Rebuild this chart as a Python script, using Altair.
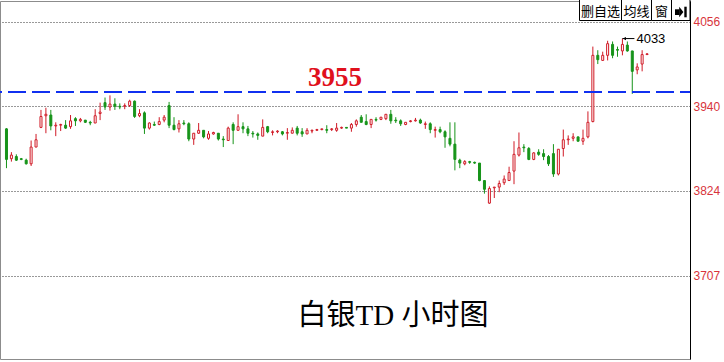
import altair as alt
import pandas as pd

# ---- data (hourly candles) ----
opens = [3909, 3868, 3871, 3868, 3866, 3861, 3884, 3911, 3927, 3928,
         3913, 3914, 3914, 3912, 3923, 3920, 3921, 3918, 3917, 3930,
         3945, 3939, 3943, 3940, 3940, 3941, 3947, 3927, 3931, 3910,
         3915, 3915, 3921, 3941, 3914, 3909, 3917, 3916, 3895, 3903,
         3907, 3896, 3902, 3903, 3895, 3893, 3915, 3907, 3912, 3909,
         3903, 3902, 3899, 3912, 3904, 3905, 3905, 3903, 3903, 3910,
         3905, 3902, 3906, 3907, 3908, 3908, 3908, 3907, 3910, 3911,
         3910, 3915, 3925, 3919, 3915, 3922, 3922, 3923, 3929, 3921,
         3920, 3915, 3919, 3920, 3921, 3915, 3916, 3907, 3908, 3905,
         3896, 3888, 3866, 3861, 3864, 3863, 3862, 3838, 3807, 3828,
         3829, 3835, 3838, 3851, 3873, 3884, 3882, 3867, 3877, 3875,
         3871, 3875, 3847, 3882, 3894, 3896, 3898, 3892, 3898, 3919,
         4010, 4003, 4010, 4025, 4018, 4016, 4024, 4016, 3990, 3998,
         4011]
highs = [3910, 3877, 3874, 3869, 3868, 3893, 3902, 3935, 3938, 3935,
         3918, 3916, 3921, 3928, 3925, 3924, 3921, 3920, 3936, 3945,
         3952, 3955, 3951, 3944, 3944, 3949, 3948, 3936, 3933, 3918,
         3919, 3925, 3928, 3946, 3925, 3921, 3921, 3918, 3903, 3917,
         3907, 3906, 3905, 3903, 3899, 3912, 3918, 3929, 3918, 3913,
         3906, 3904, 3922, 3913, 3907, 3907, 3906, 3910, 3911, 3913,
         3910, 3910, 3908, 3909, 3909, 3914, 3910, 3917, 3912, 3911,
         3917, 3922, 3928, 3929, 3922, 3925, 3925, 3929, 3935, 3925,
         3922, 3918, 3921, 3924, 3923, 3919, 3918, 3912, 3912, 3907,
         3918, 3918, 3868, 3866, 3865, 3864, 3862, 3838, 3830, 3829,
         3838, 3845, 3857, 3892, 3904, 3888, 3884, 3877, 3881, 3881,
         3873, 3888, 3881, 3908, 3900, 3903, 3898, 3908, 3933, 4022,
         4017, 4015, 4030, 4029, 4022, 4033, 4029, 4016, 3999, 4017,
         4013]
lows = [3855, 3864, 3865, 3866, 3860, 3858, 3884, 3910, 3903, 3907,
        3899, 3906, 3909, 3909, 3913, 3918, 3917, 3914, 3917, 3921,
        3935, 3934, 3935, 3936, 3936, 3939, 3924, 3925, 3902, 3908,
        3913, 3914, 3918, 3910, 3907, 3904, 3914, 3892, 3887, 3902,
        3896, 3894, 3901, 3893, 3884, 3893, 3888, 3907, 3903, 3899,
        3897, 3894, 3899, 3903, 3900, 3903, 3900, 3894, 3903, 3900,
        3898, 3902, 3903, 3906, 3907, 3903, 3906, 3905, 3909, 3910,
        3905, 3912, 3918, 3914, 3910, 3919, 3921, 3921, 3916, 3917,
        3913, 3914, 3918, 3919, 3916, 3909, 3903, 3897, 3903, 3883,
        3885, 3852, 3855, 3859, 3861, 3861, 3837, 3820, 3806, 3814,
        3822, 3832, 3838, 3833, 3871, 3877, 3866, 3866, 3872, 3866,
        3858, 3843, 3845, 3871, 3887, 3892, 3892, 3887, 3896, 3918,
        3998, 4003, 4003, 4006, 4008, 4010, 4015, 3957, 3984, 3988,
        4011]
closes = [3867, 3873, 3866, 3867, 3861, 3884, 3894, 3926, 3929, 3913,
          3914, 3915, 3910, 3920, 3920, 3922, 3918, 3917, 3927, 3932,
          3939, 3943, 3940, 3939, 3941, 3947, 3926, 3930, 3910, 3917,
          3914, 3919, 3925, 3914, 3908, 3916, 3916, 3895, 3903, 3907,
          3898, 3902, 3904, 3895, 3894, 3910, 3907, 3912, 3909, 3903,
          3902, 3900, 3911, 3905, 3905, 3906, 3902, 3904, 3907, 3903,
          3902, 3907, 3907, 3908, 3909, 3907, 3909, 3910, 3911, 3910,
          3915, 3920, 3918, 3915, 3922, 3921, 3925, 3929, 3920, 3920,
          3916, 3918, 3920, 3921, 3917, 3916, 3908, 3908, 3905, 3898,
          3888, 3867, 3862, 3864, 3863, 3862, 3838, 3826, 3827, 3829,
          3834, 3840, 3849, 3874, 3883, 3883, 3867, 3876, 3874, 3871,
          3861, 3847, 3881, 3894, 3895, 3898, 3892, 3896, 3918, 4010,
          4004, 4010, 4026, 4010, 4017, 4025, 4016, 3988, 3994, 4011,
          4012]

y_ticks = [3707, 3824, 3940, 4056]
ref_level = [3955]
title_text = "白银TD 小时图"
button_labels = ["删自选", "均线", "窗"]

RED = "#d01a26"
GREEN = "#17941a"
AXIS_RED = "#d8343c"

df = pd.DataFrame({"i": list(range(len(opens))), "o": opens, "h": highs,
                   "l": lows, "c": closes})
df["dir"] = ["up" if c >= o else "down" for o, c in zip(opens, closes)]
df["top"] = df[["o", "c"]].max(axis=1)
df["bot"] = df[["o", "c"]].min(axis=1)
peak = df.loc[[df["h"].idxmax()]]
ref_df = pd.DataFrame({"v": ref_level})

xs = alt.Scale(domain=[-0.3, 137.7], nice=False, zero=False)
ys = alt.Scale(domain=[3592.9, 4084.6], nice=False, zero=False)
yax = alt.Axis(orient="right", values=y_ticks, format="d", title=None,
               grid=True, gridDash=[1, 2], gridColor="#333333", gridWidth=1,
               tickSize=0, labelPadding=3, labelColor=AXIS_RED,
               labelFont="Liberation Sans", labelFontSize=12,
               domainColor="#000000", domainWidth=1)
X = alt.X("i:Q", scale=xs, axis=None)

def Y(field):
    return alt.Y(field, scale=ys, axis=yax)

base = alt.Chart(df)
color = alt.Color("dir:N", scale=alt.Scale(domain=["up", "down"], range=[RED, GREEN]),
                  legend=None)

wicks = base.mark_rule(strokeWidth=1).encode(x=X, y=Y("l:Q"), y2="h:Q", color=color)

up_bodies = base.transform_filter(alt.datum.dir == "up").mark_bar(
    size=2, orient="vertical", fill="white", stroke=RED, strokeWidth=1
).encode(x=X, y=Y("bot:Q"), y2="top:Q")

down_bodies = base.transform_filter(alt.datum.dir == "down").mark_bar(
    size=2, orient="vertical", fill=GREEN, stroke=GREEN, strokeWidth=1
).encode(x=X, y=Y("bot:Q"), y2="top:Q")

ref_rule = alt.Chart(ref_df).mark_rule(
    color="#1030f0", strokeWidth=2, strokeDash=[18, 6], strokeDashOffset=8,
    yOffset=-3.4
).encode(y=Y("v:Q"))

ref_text = alt.Chart(ref_df).mark_text(
    font="Liberation Serif", fontWeight="bold", fontSize=27, color="#e0101c",
    align="center", baseline="alphabetic", dy=-9.5
).encode(y=Y("v:Q"), x=alt.value(335), text=alt.Text("v:Q", format="d"))

peak_base = alt.Chart(peak)
peak_line = peak_base.mark_rule(color="black", strokeWidth=1, x2Offset=12).encode(
    x=X, x2="i:Q", y=Y("h:Q"))
peak_head = peak_base.mark_point(
    shape="M-0.5,0L0.5,-0.5L0.5,0.5Z", filled=True, color="black", size=40,
    opacity=1, xOffset=2
).encode(x=X, y=Y("h:Q"))
peak_text = peak_base.mark_text(
    align="left", baseline="middle", dx=14, fontSize=13,
    font="Liberation Sans", color="black"
).encode(x=X, y=Y("h:Q"), text=alt.Text("h:Q", format="d"))

layers = [wicks, up_bodies, down_bodies, ref_rule, ref_text,
          peak_line, peak_head, peak_text]

# ---- toolbar buttons (decoration, top right) ----
edges = [579.5, 621.5, 651.5, 671.5, 690]
one = pd.DataFrame({"k": [0]})
for j in range(4):
    layers.append(alt.Chart(one).mark_rect(fill="white", stroke="black", strokeWidth=1).encode(
        x=alt.value(edges[j]), x2=alt.value(edges[j + 1]),
        y=alt.value(-2), y2=alt.value(19.5)))
for j, lab in enumerate(button_labels):
    layers.append(alt.Chart(one).mark_text(
        font="Noto Sans CJK SC", fontSize=13, color="black", align="center",
        baseline="middle").encode(
        x=alt.value((edges[j] + edges[j + 1]) / 2), y=alt.value(10.5),
        text=alt.value(lab)))
# icon: arrow to bar
layers.append(alt.Chart(one).mark_rect(color="black").encode(
    x=alt.value(675), x2=alt.value(679.5), y=alt.value(8.3), y2=alt.value(14)))
layers.append(alt.Chart(one).mark_point(
    shape="M-0.4,-1L0.4,0L-0.4,1Z", filled=True, color="black", opacity=1, size=110
).encode(x=alt.value(681.3), y=alt.value(11.1)))
layers.append(alt.Chart(one).mark_rect(color="black").encode(
    x=alt.value(684.3), x2=alt.value(686.7), y=alt.value(5.7), y2=alt.value(16.3)))

# ---- title text ----
layers.append(alt.Chart(one).mark_text(
    font="Liberation Serif, Noto Sans CJK SC", fontSize=29, color="black",
    align="center", baseline="middle").encode(
    x=alt.value(393), y=alt.value(315), text=alt.value(title_text)))

chart = alt.layer(*layers).properties(
    width=690, height=358,
    autosize=alt.AutoSizeParams(type="none"),
    padding={"left": 0, "top": 1, "right": 34, "bottom": 3},
    background="white",
).configure_view(stroke="#8c8c8c", strokeWidth=1)

chart.save("out.html", embed_options={"renderer": "svg", "actions": False})
